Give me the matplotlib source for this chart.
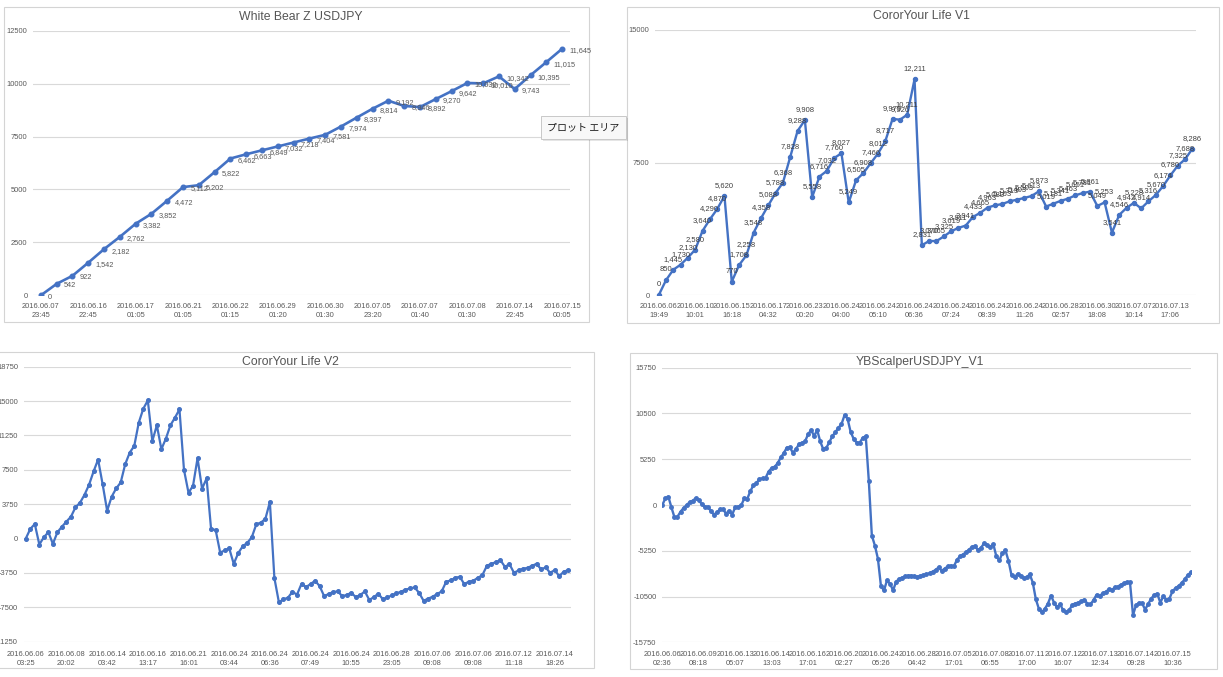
import matplotlib
matplotlib.use("Agg")
import matplotlib.pyplot as plt
from matplotlib.patches import Rectangle

W, H = 1223, 677
plt.rcParams['font.family'] = ['Liberation Sans', 'DejaVu Sans']

# ---------------- data ----------------
wb_title = "White Bear Z USDJPY"
wb_values = [0, 542, 922, 1542, 2182, 2762, 3382, 3852, 4472, 5112,
             5202, 5822, 6462, 6663, 6849, 7032, 7218, 7404, 7581, 7974,
             8397, 8814, 9192, 8946, 8892, 9270, 9642, 10030, 10010, 10342,
             9743, 10395, 11015, 11645]
wb_ticklabels = ["2016.06.07\n23:45", "2016.06.16\n22:45", "2016.06.17\n01:05",
                 "2016.06.21\n01:05", "2016.06.22\n01:15", "2016.06.29\n01:20",
                 "2016.06.30\n01:30", "2016.07.05\n23:20", "2016.07.07\n01:40",
                 "2016.07.08\n01:30", "2016.07.14\n22:45", "2016.07.15\n00:05"]
wb_yticks = [0, 2500, 5000, 7500, 10000, 12500]

v1_title = "CororYour Life V1"
v1_values = [0, 850, 1445, 1730, 2130, 2580, 3640, 4290, 4870, 5620,
             770, 1708, 2258, 3548, 4358, 5088, 5788, 6368, 7828, 9288,
             9908, 5558, 6716, 7032, 7760, 8027, 5249, 6505, 6908, 7466,
             8012, 8717, 9979, 9926, 10211, 12211, 2831, 3070, 3065, 3325,
             3619, 3811, 3941, 4433, 4665, 4963, 5083, 5163, 5313, 5403,
             5503, 5613, 5873, 5019, 5181, 5341, 5463, 5651, 5781, 5861,
             5049, 5253, 3541, 4546, 4942, 5228, 4914, 5316, 5670, 6174,
             6780, 7325, 7688, 8286]
v1_ticklabels = ["2016.06.06\n19:49", "2016.06.10\n10:01", "2016.06.15\n16:18",
                 "2016.06.17\n04:32", "2016.06.23\n00:20", "2016.06.24\n04:00",
                 "2016.06.24\n05:10", "2016.06.24\n06:36", "2016.06.24\n07:24",
                 "2016.06.24\n08:39", "2016.06.24\n11:26", "2016.06.28\n02:57",
                 "2016.06.30\n18:08", "2016.07.07\n10:14", "2016.07.13\n17:06"]
v1_yticks = [0, 7500, 15000]

v2_title = "CororYour Life V2"
v2_values = [0, 1050, 1590, -650, 150, 690, -580, 690, 1300, 1850,
             2390, 3410, 3910, 4780, 5870, 7320, 8620, 5940, 3040, 4570,
             5470, 6120, 8120, 9380, 10110, 12650, 14170, 15070, 10650, 12360,
             9750, 10910, 12360, 13190, 14090, 7500, 5000, 5760, 8770, 5440,
             6560, 1010, 940, -1520, -1300, -1050, -2750, -1590, -830, -470,
             150, 1560, 1740, 2140, 3990, -4310, -6960, -6630, -6450, -5800,
             -6120, -4930, -5290, -4960, -4600, -5180, -6270, -6050, -5830, -5760,
             -6270, -6160, -5910, -6380, -6160, -5760, -6700, -6380, -6010, -6630,
             -6410, -6200, -5980, -5800, -5580, -5440, -5330, -5910, -6780, -6560,
             -6340, -6050, -5760, -4710, -4570, -4280, -4170, -4960, -4710, -4600,
             -4280, -3990, -2970, -2750, -2570, -2360, -3080, -2790, -3730, -3480,
             -3300, -3190, -2970, -2750, -3370, -3150, -3730, -3440, -4090, -3620,
             -3440]
v2_ticklabels = ["2016.06.06\n03:25", "2016.06.08\n20:02", "2016.06.14\n03:42",
                 "2016.06.16\n13:17", "2016.06.21\n16:01", "2016.06.24\n03:44",
                 "2016.06.24\n06:36", "2016.06.24\n07:49", "2016.06.24\n10:55",
                 "2016.06.28\n23:05", "2016.07.06\n09:08", "2016.07.06\n09:08",
                 "2016.07.12\n11:18", "2016.07.14\n18:26"]
v2_yticks = [-11250, -7500, -3750, 0, 3750, 7500, 11250, 15000, 18750]

yb_title = "YBScalperUSDJPY_V1"
yb_values = [0, 750, 950, -270, -1400, -1340, -780, -340, -20, 330,
             480, 780, 560, 100, -220, -190, -700, -1100, -850, -500,
             -480, -1000, -650, -1100, -270, -180, -30, 750, 720, 1600,
             2250, 2500, 2990, 3050, 3100, 3840, 4230, 4380, 4800, 5450,
             5950, 6580, 6600, 6000, 6400, 6970, 7140, 7300, 8100, 8600,
             7910, 8600, 7300, 6400, 6550, 7200, 7900, 8350, 8860, 9270,
             10300, 9900, 8400, 7600, 7150, 7150, 7700, 7900, 2800, -3500,
             -4650, -6160, -9300, -9800, -8640, -9050, -9780, -8800, -8480, -8330,
             -8200, -8100, -8100, -8180, -8230, -8140, -8030, -7960, -7820, -7650,
             -7450, -7150, -7550, -7300, -7050, -6950, -7050, -6300, -5900, -5680,
             -5420, -5130, -4800, -4750, -5200, -4880, -4380, -4600, -4800, -4480,
             -5900, -6350, -5500, -5210, -6400, -8070, -8300, -7900, -8100, -8400,
             -8300, -7950, -8900, -10800, -11900, -12300, -11900, -11300, -10400, -11200,
             -11750, -11350, -12100, -12300, -12050, -11470, -11300, -11200, -11050, -10850,
             -11330, -11400, -10900, -10300, -10460, -10130, -9980, -9680, -9770, -9460,
             -9350, -9150, -8980, -8840, -8850, -12600, -11500, -11220, -11280, -12000,
             -11350, -10730, -10330, -10180, -11200, -10450, -10900, -10730, -9900, -9530,
             -9300, -8960, -8540, -8070, -7720]
yb_ticklabels = ["2016.06.06\n02:36", "2016.06.09\n08:18", "2016.06.13\n05:07",
                 "2016.06.14\n13:03", "2016.06.16\n17:01", "2016.06.20\n02:27",
                 "2016.06.24\n05:26", "2016.06.28\n04:42", "2016.07.05\n17:01",
                 "2016.07.08\n06:55", "2016.07.11\n17:00", "2016.07.12\n16:07",
                 "2016.07.13\n12:34", "2016.07.14\n09:28", "2016.07.15\n10:36"]
yb_yticks = [-15750, -10500, -5250, 0, 5250, 10500, 15750]

# ---------------- style ----------------
LINE = '#4472C4'
GRID = '#d9d9d9'
TXT = '#595959'
TICKFS = 5.4

fig = plt.figure(figsize=(W / 100, H / 100), dpi=100)


def px_axes(x0, y0, x1, y1):
    return fig.add_axes([x0 / W, 1 - y1 / H, (x1 - x0) / W, (y1 - y0) / H])


def frame(x0, y0, x1, y1):
    fig.add_artist(Rectangle((x0 / W, 1 - y1 / H), (x1 - x0) / W, (y1 - y0) / H,
                             transform=fig.transFigure, fill=False,
                             ec='#d4d4d4', lw=0.8, zorder=0))


def style(ax, yticks, n, step, ticklabels, xpad_l, xpad_r, xpad):
    ax.set_ylim(yticks[0], yticks[-1])
    ax.set_yticks(yticks)
    ax.set_yticklabels([str(t) for t in yticks])
    ax.set_xlim(-xpad_l, n - 1 + xpad_r)
    ax.set_xticks(list(range(0, n, step))[:len(ticklabels)])
    ax.set_xticklabels(ticklabels, linespacing=1.4)
    ax.grid(axis='y', color=GRID, lw=0.8)
    ax.set_axisbelow(True)
    for s in ax.spines.values():
        s.set_visible(False)
    ax.tick_params(length=0, labelsize=TICKFS, labelcolor=TXT)
    ax.tick_params(axis='y', pad=4)
    ax.tick_params(axis='x', pad=xpad)
    ax.set_facecolor('none')


def title(x, y, s):
    fig.text(x / W, 1 - y / H, s, ha='center', va='center', fontsize=8.8, color='#555555')


# ---- panel 1 ----
frame(4, 7, 589, 322)
ax1 = px_axes(33, 30.7, 570, 295.3)
x1 = list(range(len(wb_values)))
ax1.plot(x1, wb_values, color=LINE, lw=1.9, marker='o', ms=3.3, zorder=3)
style(ax1, wb_yticks, len(wb_values), 3, wb_ticklabels, 0.5, 0.5, 5.6)
for xi, v in zip(x1, wb_values):
    ax1.annotate(f"{v:,}", (xi, v), xytext=(5.2, -1.4), textcoords='offset points',
                 ha='left', va='center', fontsize=5.3, color=TXT, zorder=4)
title(301, 17, wb_title)

# ---- panel 2 ----
frame(627, 7, 1219, 322.7)
ax2 = px_axes(655, 30, 1196, 295.3)
x2 = list(range(len(v1_values)))
ax2.plot(x2, v1_values, color=LINE, lw=1.7, marker='o', ms=2.9, zorder=3)
style(ax2, v1_yticks, len(v1_values), 5, v1_ticklabels, 0.5, 0.5, 5.6)
for xi, v in zip(x2, v1_values):
    ax2.annotate(f"{v:,}", (xi, v), xytext=(0, 7.5), textcoords='offset points',
                 ha='center', va='center', fontsize=5.5, color='#404040', zorder=4)
title(921, 16, v1_title)

# ---- panel 3 ----
frame(-5, 352.3, 594, 668.3)
ax3 = px_axes(23.5, 366.7, 570.5, 641.7)
x3 = list(range(len(v2_values)))
ax3.plot(x3, v2_values, color=LINE, lw=1.6, marker='o', ms=2.6, zorder=3)
style(ax3, v2_yticks, len(v2_values), 9, v2_ticklabels, 0.5, 0.5, 6.4)
title(290, 362, v2_title)

# ---- panel 4 ----
frame(630, 353.3, 1217, 669)
ax4 = px_axes(662, 367.7, 1191, 642.3)
x4 = list(range(len(yb_values)))
ax4.plot(x4, yb_values, color=LINE, lw=1.7, marker='o', ms=2.5, zorder=3)
style(ax4, yb_yticks, len(yb_values), 12, yb_ticklabels, 0.1, 0.1, 6.4)
title(920, 362, yb_title)

# ---- tooltip ----
fig.add_artist(Rectangle((543 / W, 1 - 141 / H), 85 / W, 23 / H, transform=fig.transFigure,
                         fc='#000000', alpha=0.10, ec='none', zorder=9))
fig.add_artist(Rectangle((541 / W, 1 - 139 / H), 85 / W, 23 / H, transform=fig.transFigure,
                         fc='#f8f8f8', ec='#c8c8c8', lw=0.7, zorder=10))
fig.text(583.5 / W, 1 - 127.5 / H, "プロット エリア", ha='center', va='center',
         fontsize=7.2, color='#1a1a1a', family=['Noto Sans CJK JP', 'DejaVu Sans'], zorder=11)

fig.savefig("out.png", dpi=100, facecolor='white')
